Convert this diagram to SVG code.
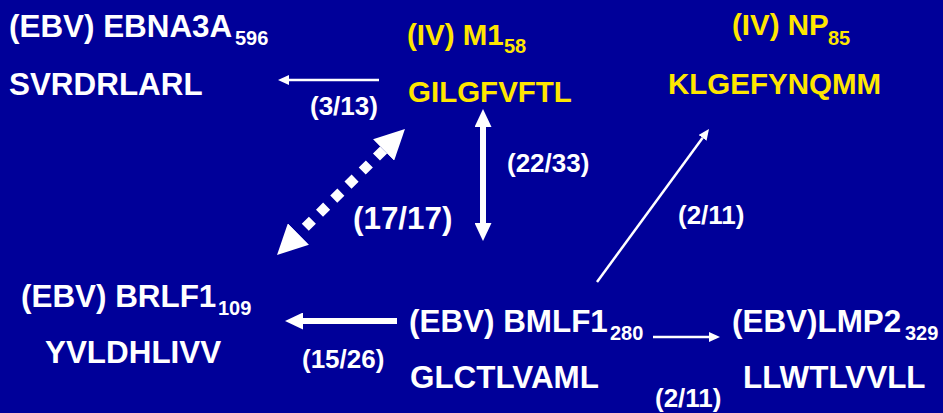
<svg xmlns="http://www.w3.org/2000/svg" width="943" height="413" viewBox="0 0 943 413">
<style>
text{font-family:"Liberation Sans",Arial,sans-serif;font-weight:bold}
.w{fill:#ffffff;font-size:31.4px}
.y{fill:#ffe600;font-size:29.5px}
.sub{font-size:20px}
.lbl{fill:#ffffff;font-size:26px}
.thin{stroke:#ffffff;stroke-width:2.5;fill:none}
.thick{stroke:#ffffff;stroke-width:6;fill:none}
.dot{stroke:#ffffff;stroke-width:10;stroke-dasharray:10 10;fill:none}
</style>
<defs>
<marker id="hs" markerUnits="userSpaceOnUse" markerWidth="11" markerHeight="10" refX="0" refY="5" orient="auto-start-reverse"><path d="M0,0 L11,5 L0,10 z" fill="#ffffff"/></marker>
<marker id="hm" markerUnits="userSpaceOnUse" markerWidth="18" markerHeight="17" refX="0" refY="8.5" orient="auto-start-reverse"><path d="M0,0 L18,8.5 L0,17 z" fill="#ffffff"/></marker>
<marker id="hl" markerUnits="userSpaceOnUse" markerWidth="30" markerHeight="30" refX="0" refY="15" orient="auto-start-reverse"><path d="M0,0 L30,15 L0,30 z" fill="#ffffff"/></marker>
</defs>
<rect x="0" y="0" width="943" height="413" fill="#000099"/>
<g id="ebna3a">
<text class="w" x="9" y="37">(EBV) EBNA3A<tspan class="sub" x="235" y="45">596</tspan></text>
<text class="w" x="9" y="95">SVRDRLARL</text>
</g>
<g id="m1">
<text class="y" x="407" y="45">(IV) M1<tspan class="sub" x="504" y="53">58</tspan></text>
<text class="y" x="408" y="102">GILGFVFTL</text>
</g>
<g id="np">
<text class="y" x="732" y="35">(IV) NP<tspan class="sub" x="828" y="45">85</tspan></text>
<text class="y" x="668" y="94">KLGEFYNQMM</text>
</g>
<g id="brlf1">
<text class="w" x="21" y="307">(EBV) BRLF1<tspan class="sub" x="218" y="315">109</tspan></text>
<text class="w" x="45" y="363">YVLDHLIVV</text>
</g>
<g id="bmlf1">
<text class="w" x="409" y="332">(EBV) BMLF1<tspan class="sub" x="610" y="340">280</tspan></text>
<text class="w" x="410" y="388">GLCTLVAML</text>
</g>
<g id="lmp2">
<text class="w" x="732" y="332">(EBV)LMP2<tspan class="sub" x="905" y="340">329</tspan></text>
<text class="w" x="743" y="388">LLWTLVVLL</text>
</g>
<g id="connectors">
<line class="thin" x1="379" y1="80" x2="289" y2="80" marker-end="url(#hs)"/>
<text class="lbl" x="310" y="115">(3/13)</text>
<line class="thick" x1="483" y1="127" x2="483" y2="223" marker-start="url(#hm)" marker-end="url(#hm)"/>
<text class="lbl" x="507" y="172">(22/33)</text>
<line class="dot" x1="383.6" y1="150" x2="298.4" y2="234" marker-start="url(#hl)" marker-end="url(#hl)"/>
<text class="w" x="353" y="229">(17/17)</text>
<line class="thin" x1="597" y1="282" x2="702.5" y2="137.9" marker-end="url(#hs)"/>
<text class="lbl" x="678" y="224">(2/11)</text>
<line class="thick" x1="397" y1="321" x2="303" y2="321" marker-end="url(#hm)"/>
<text class="lbl" x="302" y="368">(15/26)</text>
<line class="thin" x1="653" y1="337" x2="709" y2="337" marker-end="url(#hs)"/>
<text class="lbl" x="655" y="407">(2/11)</text>
</g>
</svg>
